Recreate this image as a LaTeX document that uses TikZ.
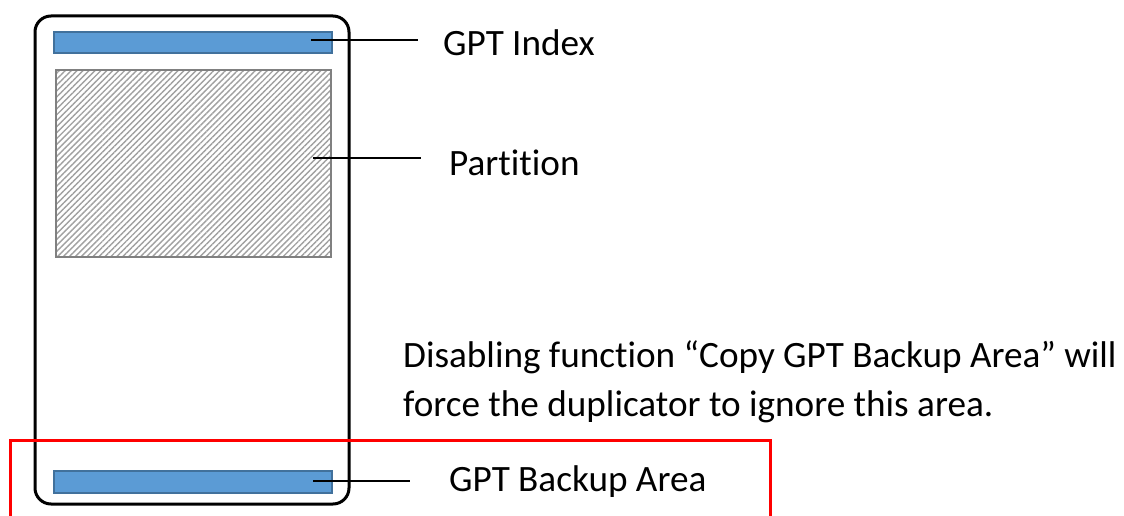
\documentclass[tikz,border=0pt]{standalone}
\usepackage{fontspec}
\setmainfont[Ligatures=NoCommon]{Carlito}
\usetikzlibrary{patterns.meta}
\definecolor{barblue}{HTML}{5B9BD5}
\definecolor{barborder}{HTML}{41719C}
\definecolor{hatchgray}{HTML}{A0A0A0}
\definecolor{hatchborder}{HTML}{808080}
\tikzset{
  bar/.style={draw=barborder, fill=barblue, line width=2pt},
  outerbox/.style={draw=black, line width=3pt, rounded corners=16pt},
  hatchbox/.style={draw=hatchborder, line width=2.5pt,
     pattern={Lines[angle=45, distance=4.2pt, line width=1.4pt]}, pattern color=hatchgray},
  leader/.style={draw=black, line width=1.5pt},
  lbl/.style={anchor=west, inner sep=0pt, font=\fontsize{37.2pt}{49pt}\selectfont, align=left},
  redbox/.style={draw=red, line width=3pt}
}
\begin{document}
\begin{tikzpicture}[x=1pt,y=-1pt]
\useasboundingbox (0,0) rectangle (1124,516);
\draw[outerbox] (35,16) rectangle (349,504);
\path[bar] (54,32) rectangle (332,53);
\path[hatchbox] (56,70) rectangle (331,257);
\path[bar] (54,471) rectangle (332,493);
\node[lbl] (gptidx) at (443,43) {GPT Index};
\node[lbl] (part) at (449,163) {Partition};
\node[lbl] (note) at (403,382) {Disabling function “Copy GPT Backup Area” will\\force the duplicator to ignore this area.};
\node[lbl] (backup) at (449,482) {GPT Backup Area};
\coordinate (a1) at (311,40);
\coordinate (a2) at (418,40);
\coordinate (b1) at (313,158);
\coordinate (b2) at (421,158);
\coordinate (c1) at (313,481);
\coordinate (c2) at (410,481);
\draw[leader] (a1) -- (a2);
\draw[leader] (b1) -- (b2);
\draw[leader] (c1) -- (c2);
\draw[redbox] (10,440) rectangle (770,530);
\end{tikzpicture}
\end{document}
